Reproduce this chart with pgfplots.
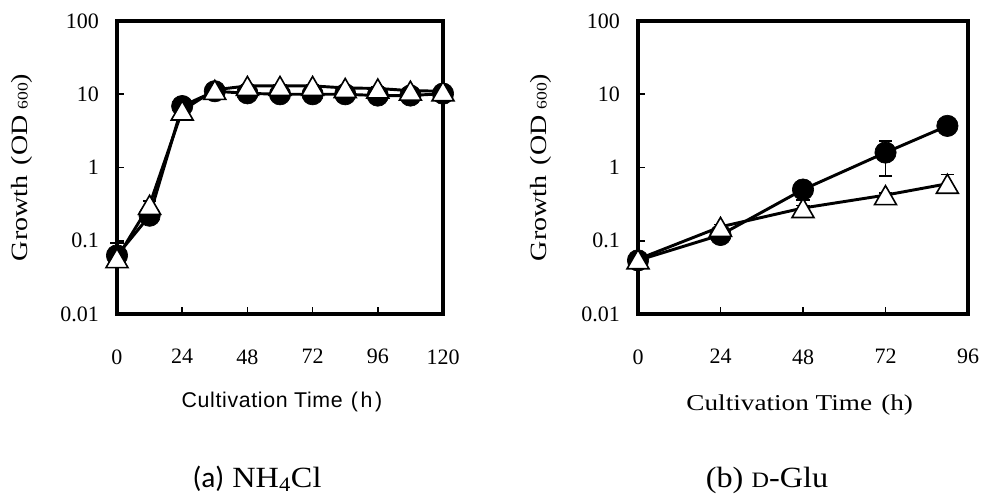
\documentclass[border=0pt]{standalone}
\usepackage{fontspec}
\setmainfont{Liberation Serif}
\newfontfamily\wideserif[FakeStretch=1.2]{Liberation Serif}
\newfontfamily\capserif[FakeStretch=1.1]{Liberation Serif}
\newfontfamily\gothic[LetterSpace=3]{Liberation Sans}
\newfontfamily\carlito{Carlito}
\usepackage{pgfplots}
\pgfplotsset{compat=1.18}

\pgfplotsset{
  circ/.style={black, line width=2.2pt, mark=*, mark size=8pt,
    mark options={fill=black, line width=0.5pt, solid}},
  tri/.style={black, line width=2.2pt, mark=triangle*, mark size=9.5pt,
    mark options={fill=white, draw=black, line width=1.2pt, solid, yshift=-2.4pt}},
}

\begin{document}
\begin{tikzpicture}
\useasboundingbox (0,0) rectangle (738pt,-370.5pt);

% (a) NH4Cl
\begin{axis}[
  scale only axis, ymode=log, ymin=0.01, ymax=100,
  ytick={0.01,0.1,1,10,100}, yticklabels={0.01,0.1,1,10,100},
  yminorticks=false,
  axis line style={line width=2.6pt},
  tick style={line width=1.2pt, black}, major tick length=5pt,
  tick align=inside, xtick pos=bottom, ytick pos=left,
  tick label style={font=\fontsize{16.5}{16.5}\selectfont},
  yticklabel shift=10pt, xticklabel shift=23pt,
  clip=false,
  at={(87.75pt,-15.75pt)}, anchor=north west,
  width=244.5pt, height=219.75pt,
  xmin=0, xmax=120, xtick={0,24,48,72,96,120},
  xticklabels={0,24,48,72,96,120},
  xlabel={Cultivation Time\hspace{6pt}(\hspace{2pt}h\hspace{2pt})},
  xlabel style={at={(axis description cs:0.506,-0.300)}, anchor=center,
    font=\gothic\fontsize{16}{17}\selectfont},
  ylabel={Growth\hspace{0.45em}(OD\hspace{0.25em}{\fontsize{11}{11}\selectfont 600})},
  ylabel style={at={(axis description cs:-0.291,0.5)}, anchor=center,
    font=\wideserif\fontsize{17.5}{18}\selectfont},
]
\addplot[circ,
  error bars/y dir=both, error bars/y explicit,
  error bars/error bar style={line width=1pt},
  error bars/error mark options={rotate=90, mark size=5pt, line width=1pt}]
  coordinates {
  (0,0.063) += (0,0.03) -= (0,0.005)
  (12,0.22) +- (0,0.02)
  (24,6.9) +- (0,0.4)
  (36,11.0) +- (0,0.5)
  (48,10.3) +- (0,0.4)
  (60,10.0) +- (0,0.4)
  (72,10.0) +- (0,0.4)
  (84,10.0) +- (0,0.4)
  (96,9.6) +- (0,0.4)
  (108,9.6) +- (0,0.4)
  (120,10.2) +- (0,0.4)
};
\addplot[tri,
  error bars/y dir=both, error bars/y explicit,
  error bars/error bar style={line width=1pt},
  error bars/error mark options={rotate=90, mark size=5pt, line width=1pt}]
  coordinates {
  (0,0.058) +- (0,0.004)
  (12,0.31) += (0,0.04) -= (0,0.02)
  (24,6.0) +- (0,0.4)
  (36,11.5) +- (0,0.5)
  (48,13.0) +- (0,0.5)
  (60,13.0) +- (0,0.5)
  (72,13.0) +- (0,0.5)
  (84,12.2) +- (0,0.5)
  (96,12.0) +- (0,0.5)
  (108,11.2) +- (0,0.5)
  (120,11.0) +- (0,0.5)
};
\end{axis}

% (b) D-Glu
\begin{axis}[
  scale only axis, ymode=log, ymin=0.01, ymax=100,
  ytick={0.01,0.1,1,10,100}, yticklabels={0.01,0.1,1,10,100},
  yminorticks=false,
  axis line style={line width=2.6pt},
  tick style={line width=1.2pt, black}, major tick length=5pt,
  tick align=inside, xtick pos=bottom, ytick pos=left,
  tick label style={font=\fontsize{16.5}{16.5}\selectfont},
  yticklabel shift=10pt, xticklabel shift=23pt,
  clip=false,
  at={(478.5pt,-15.75pt)}, anchor=north west,
  width=247.5pt, height=219.75pt,
  xmin=0, xmax=96, xtick={0,24,48,72,96},
  xticklabels={0,24,48,72,96},
  xlabel={Cultivation Time\hspace{0.4em}(h)},
  xlabel style={at={(axis description cs:0.49,-0.311)}, anchor=center,
    font=\wideserif\fontsize{17}{18}\selectfont},
  ylabel={Growth\hspace{0.45em}(OD\hspace{0.25em}{\fontsize{11}{11}\selectfont 600})},
  ylabel style={at={(axis description cs:-0.294,0.5)}, anchor=center,
    font=\wideserif\fontsize{17.5}{18}\selectfont},
]
\addplot[circ,
  error bars/y dir=both, error bars/y explicit,
  error bars/error bar style={line width=1pt},
  error bars/error mark options={rotate=90, mark size=5pt, line width=1pt}]
  coordinates {
  (0,0.054) +- (0,0.004)
  (24,0.12) +- (0,0.01)
  (48,0.50) +- (0,0.14)
  (72,1.6) += (0,0.7) -= (0,0.83)
  (90,3.7) +- (0,0.75)
};
\addplot[tri,
  error bars/y dir=both, error bars/y explicit,
  error bars/error bar style={line width=1pt},
  error bars/error mark options={rotate=90, mark size=5pt, line width=1pt}]
  coordinates {
  (0,0.056) +- (0,0.004)
  (24,0.155) +- (0,0.01)
  (48,0.28) +- (0,0.02)
  (72,0.42) +- (0,0.03)
  (90,0.60) += (0,0.2) -= (0,0.1)
};
\end{axis}

\node[anchor=base, font=\capserif\fontsize{22}{24}\selectfont] at (192.75pt,-365.25pt)
  {{\carlito (a)} NH\textsubscript{4}Cl};
\node[anchor=base, font=\capserif\fontsize{22}{24}\selectfont] at (575.25pt,-365.25pt)
  {(b) {\fontsize{16.5}{16.5}\selectfont D}-Glu};
\end{tikzpicture}
\end{document}
